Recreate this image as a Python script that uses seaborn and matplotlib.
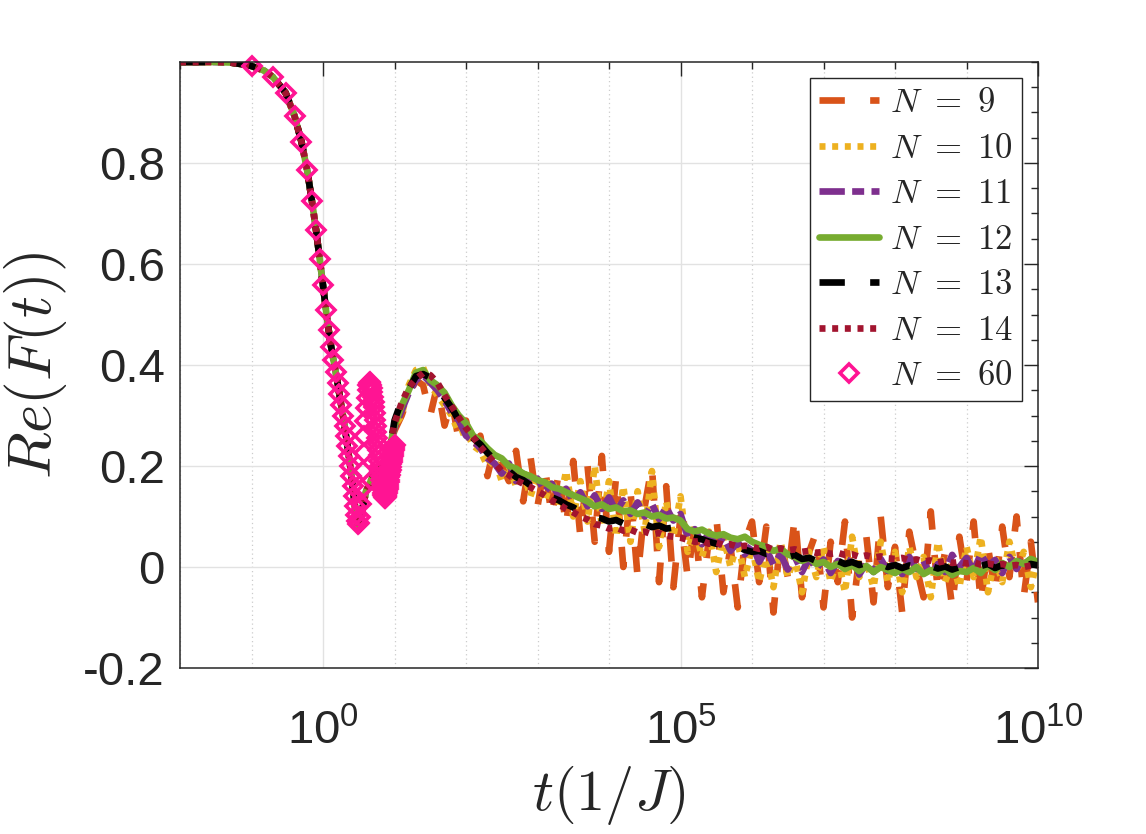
import matplotlib
matplotlib.use("Agg")
import matplotlib.pyplot as plt
import matplotlib.ticker as mticker
import seaborn as sns

# early decay, identical for all finite-N curves
t_early = [0.01, 0.03, 0.05, 0.08, 0.1, 0.15, 0.2, 0.3, 0.4, 0.5, 0.6, 0.7, 0.8, 0.9,
           1.0, 1.1, 1.2, 1.3, 1.4, 1.5, 1.6, 1.8, 2.0, 2.2, 2.4, 2.6, 2.8, 3.0, 3.2,
           3.5, 4.0, 5.0, 6.0, 7.0, 8.0, 9.0]
f_early = [1.0, 1.0, 0.999, 0.995, 0.992, 0.983, 0.970, 0.939, 0.893, 0.842, 0.786, 0.725,
           0.667, 0.609, 0.558, 0.509, 0.469, 0.436, 0.410, 0.387, 0.364, 0.320, 0.280,
           0.240, 0.200, 0.160, 0.120, 0.085, 0.080, 0.110, 0.150, 0.180, 0.190, 0.200,
           0.220, 0.250]

# noisy tail, sampled at t = 10**tail_exp
tail_exp = [1.0, 1.1, 1.2, 1.3, 1.4, 1.5, 1.6, 1.7, 1.8, 1.9,
            2.0, 2.1, 2.2, 2.3, 2.4, 2.5, 2.6, 2.7, 2.8, 2.9,
            3.0, 3.1, 3.2, 3.3, 3.4, 3.5, 3.6, 3.7, 3.8, 3.9,
            4.0, 4.1, 4.2, 4.3, 4.4, 4.5, 4.6, 4.7, 4.8, 4.9,
            5.0, 5.1, 5.2, 5.3, 5.4, 5.5, 5.6, 5.7, 5.8, 5.9,
            6.0, 6.1, 6.2, 6.3, 6.4, 6.5, 6.6, 6.7, 6.8, 6.9,
            7.0, 7.1, 7.2, 7.3, 7.4, 7.5, 7.6, 7.7, 7.8, 7.9,
            8.0, 8.1, 8.2, 8.3, 8.4, 8.5, 8.6, 8.7, 8.8, 8.9,
            9.0, 9.1, 9.2, 9.3, 9.4, 9.5, 9.6, 9.7, 9.8, 9.9, 10.0]

f9_tail = [0.27, 0.3, 0.34, 0.37, 0.36, 0.3, 0.36, 0.28, 0.33, 0.25,
           0.29, 0.22, 0.26, 0.18, 0.24, 0.2, 0.17, 0.23, 0.13, 0.22,
           0.12, 0.2, 0.1, 0.19, 0.08, 0.21, 0.06, 0.2, 0.05, 0.22,
           0.03, 0.18, 0.0, 0.15, -0.02, 0.12, 0.2, -0.03, 0.16, -0.04,
           0.1, -0.02, 0.09, -0.06, 0.06, 0.1, -0.05, 0.04, -0.08, 0.05,
           0.09, -0.03, 0.08, -0.09, 0.06, -0.02, 0.1, -0.06, 0.03, 0.07,
           -0.08, 0.05, -0.03, 0.09, -0.1, 0.02, 0.06, -0.07, 0.1, -0.04,
           0.04, -0.09, 0.07, 0.0, -0.06, 0.11, -0.05, 0.03, -0.08, 0.06,
           -0.03, 0.09, -0.07, 0.04, -0.05, 0.08, -0.02, 0.1, -0.06, 0.05, -0.07]
f10_tail = [0.28, 0.3, 0.36, 0.39, 0.395, 0.36, 0.34, 0.32, 0.3, 0.265,
            0.27, 0.24, 0.23, 0.2, 0.215, 0.17, 0.2, 0.16, 0.19, 0.14,
            0.18, 0.13, 0.175, 0.12, 0.19, 0.1, 0.17, 0.09, 0.2, 0.08,
            0.17, 0.06, 0.16, 0.05, 0.15, 0.07, 0.19, 0.04, 0.13, 0.06,
            0.14, 0.03, 0.08, 0.02, 0.07, -0.01, 0.06, 0.0, 0.05, -0.02,
            0.04, -0.03, 0.03, -0.04, 0.05, -0.02, 0.02, -0.05, 0.03, -0.02,
            0.04, -0.03, 0.02, -0.05, 0.06, -0.02, 0.01, -0.04, 0.05, -0.03,
            0.03, -0.05, 0.04, -0.02, 0.02, -0.06, 0.05, -0.03, 0.01, -0.04,
            0.04, -0.02, 0.06, -0.05, 0.02, -0.03, 0.05, -0.01, 0.03, -0.04, 0.02]
f11_tail = [0.275, 0.31, 0.345, 0.37, 0.38, 0.365, 0.35, 0.33, 0.305, 0.29,
            0.26, 0.25, 0.235, 0.215, 0.205, 0.185, 0.205, 0.17, 0.185, 0.16,
            0.175, 0.15, 0.165, 0.14, 0.155, 0.13, 0.148, 0.12, 0.142, 0.115,
            0.138, 0.11, 0.132, 0.105, 0.128, 0.1, 0.125, 0.095, 0.118, 0.092,
            0.105, 0.06, 0.075, 0.045, 0.068, 0.038, 0.06, 0.032, 0.05, 0.025,
            0.045, 0.01, 0.035, 0.005, 0.025, -0.005, 0.02, -0.01, 0.018, -0.004,
            0.015, -0.012, 0.012, -0.006, 0.02, -0.015, 0.008, -0.01, 0.016, -0.008,
            0.01, -0.014, 0.02, -0.004, 0.012, -0.018, 0.006, -0.01, 0.024, 0.0,
            0.018, -0.008, 0.026, 0.002, 0.014, -0.012, 0.02, -0.004, 0.022, 0.006, 0.012]
f12_tail = [0.28, 0.32, 0.35, 0.385, 0.39, 0.37, 0.36, 0.345, 0.32, 0.3,
            0.285, 0.26, 0.25, 0.235, 0.222, 0.215, 0.2, 0.195, 0.185, 0.18,
            0.172, 0.168, 0.158, 0.155, 0.148, 0.142, 0.136, 0.13, 0.12, 0.124,
            0.115, 0.118, 0.11, 0.112, 0.105, 0.108, 0.1, 0.103, 0.096, 0.098,
            0.092, 0.075, 0.07, 0.074, 0.066, 0.062, 0.065, 0.058, 0.055, 0.06,
            0.05, 0.044, 0.04, 0.032, 0.036, 0.025, 0.02, 0.012, 0.018, 0.006,
            0.01, 0.0, 0.006, -0.004, 0.004, -0.008, 0.002, -0.01, 0.0, -0.006,
            -0.012, -0.004, -0.01, 0.0, -0.014, -0.006, -0.012, -0.002, -0.016, -0.008,
            -0.01, -0.002, -0.012, 0.004, -0.006, 0.008, 0.0, 0.012, 0.006, 0.016, 0.01]
f13_tail = [0.29, 0.33, 0.352, 0.378, 0.382, 0.375, 0.36, 0.335, 0.315, 0.29,
            0.272, 0.255, 0.243, 0.226, 0.212, 0.198, 0.19, 0.178, 0.172, 0.162,
            0.155, 0.148, 0.138, 0.132, 0.124, 0.118, 0.11, 0.106, 0.098, 0.096,
            0.09, 0.093, 0.086, 0.088, 0.082, 0.085, 0.079, 0.082, 0.076, 0.078,
            0.074, 0.062, 0.058, 0.055, 0.05, 0.046, 0.044, 0.038, 0.04, 0.034,
            0.03, 0.032, 0.026, 0.028, 0.022, 0.02, 0.024, 0.016, 0.018, 0.012,
            0.014, 0.008, 0.012, 0.006, 0.01, 0.004, 0.008, 0.002, 0.006, 0.0,
            0.004, -0.002, 0.003, 0.0, -0.004, 0.002, -0.003, 0.001, -0.005, 0.0,
            0.003, -0.003, 0.002, 0.006, -0.002, 0.004, 0.0, 0.005, 0.001, 0.006, 0.003]
f14_tail = [0.285, 0.325, 0.356, 0.372, 0.384, 0.38, 0.365, 0.34, 0.318, 0.296,
            0.275, 0.258, 0.238, 0.222, 0.206, 0.19, 0.182, 0.172, 0.165, 0.158,
            0.15, 0.142, 0.132, 0.124, 0.115, 0.108, 0.1, 0.094, 0.085, 0.082,
            0.076, 0.078, 0.072, 0.074, 0.068, 0.07, 0.065, 0.067, 0.062, 0.06,
            0.058, 0.054, 0.05, 0.052, 0.046, 0.048, 0.044, 0.045, 0.04, 0.042,
            0.04, 0.036, 0.04, 0.034, 0.037, 0.033, 0.035, 0.03, 0.032, 0.028,
            0.03, 0.026, 0.028, 0.024, 0.025, 0.02, 0.023, 0.019, 0.021, 0.017,
            0.016, 0.018, 0.013, 0.015, 0.011, 0.013, 0.009, 0.012, 0.008, 0.01,
            0.007, 0.009, 0.005, 0.007, 0.004, 0.006, 0.002, 0.004, 0.0, 0.003, 0.001]

# N = 60 reference curve
t60 = [0.1, 0.2, 0.3, 0.4, 0.5, 0.6, 0.7, 0.8, 0.9, 1.0,
       1.1, 1.2, 1.3, 1.4, 1.5, 1.6, 1.7, 1.8, 1.9, 2.0,
       2.1, 2.2, 2.3, 2.4, 2.5, 2.6, 2.7, 2.8, 2.9, 3.0,
       3.1, 3.2, 3.3, 3.4, 3.5, 3.6, 3.7, 3.8, 3.9, 4.0,
       4.1, 4.2, 4.3, 4.4, 4.5, 4.6, 4.7, 4.8, 4.9, 5.0,
       5.1, 5.2, 5.3, 5.4, 5.5, 5.6, 5.7, 5.8, 5.9, 6.0,
       6.1, 6.2, 6.3, 6.4, 6.5, 6.6, 6.7, 6.8, 6.9, 7.0,
       7.1, 7.2, 7.3, 7.4, 7.5, 7.6, 7.7, 7.8, 7.9, 8.0,
       8.1, 8.2, 8.3, 8.4, 8.5, 8.6, 8.7, 8.8, 8.9, 9.0,
       9.1, 9.2, 9.3, 9.4, 9.5, 9.6, 9.7, 9.8, 9.9, 10.0]
f60 = [0.992, 0.970, 0.939, 0.893, 0.842, 0.786, 0.725, 0.667, 0.609, 0.558,
       0.509, 0.469, 0.436, 0.410, 0.387, 0.364, 0.342, 0.320, 0.300, 0.280,
       0.260, 0.240, 0.220, 0.200, 0.180, 0.160, 0.140, 0.120, 0.103, 0.092,
       0.086, 0.088, 0.100, 0.125, 0.155, 0.190, 0.225, 0.260, 0.290, 0.315,
       0.335, 0.350, 0.360, 0.365, 0.366, 0.364, 0.360, 0.354, 0.346, 0.337,
       0.327, 0.316, 0.304, 0.292, 0.280, 0.268, 0.256, 0.244, 0.232, 0.221,
       0.210, 0.200, 0.190, 0.181, 0.173, 0.165, 0.158, 0.152, 0.147, 0.143,
       0.140, 0.138, 0.137, 0.137, 0.138, 0.140, 0.143, 0.146, 0.150, 0.154,
       0.158, 0.163, 0.168, 0.173, 0.178, 0.183, 0.188, 0.193, 0.198, 0.203,
       0.208, 0.212, 0.216, 0.220, 0.224, 0.228, 0.232, 0.236, 0.239, 0.242]

sns.set_theme(style="white")
plt.rcParams['font.family'] = ['Liberation Sans', 'DejaVu Sans']
plt.rcParams['mathtext.fontset'] = 'cm'
plt.rcParams['axes.unicode_minus'] = False

fig = plt.figure(figsize=(11.46, 8.34), dpi=100)
ax = fig.add_axes([180/1146, 1 - 668/834, 858/1146, 606/834])
ax.set_xscale('log')

t_tail = [10**e for e in tail_exp]
series = [
    (r"$N\ =\ 9$", f9_tail, "#d95319", (0, (3.8, 3.8))),
    (r"$N\ =\ 10$", f10_tail, "#edb120", (0, (0.9, 1.0))),
    (r"$N\ =\ 11$", f11_tail, "#7e2f8e", (0, (3.8, 1.1, 1.8, 1.1))),
    (r"$N\ =\ 12$", f12_tail, "#77ac30", "-"),
    (r"$N\ =\ 13$", f13_tail, "#000000", (0, (3.8, 3.8))),
    (r"$N\ =\ 14$", f14_tail, "#a2142f", (0, (0.9, 1.0))),
]
for lab, tail, col, ls in series:
    sns.lineplot(x=t_early + t_tail, y=f_early + tail, ax=ax, color=col, lw=4.8,
                 linestyle=ls, label=lab, sort=False, legend=False)

pink = "#ff1493"
sns.lineplot(x=t60, y=f60, ax=ax, color=pink, linestyle="none", marker="D",
             markersize=9.5, markerfacecolor="none", markeredgecolor=pink,
             markeredgewidth=2.6, label=r"$N\ =\ 60$", sort=False, legend=False,
             clip_on=False)

ax.set_xlim(1e-2, 1e10)
ax.set_ylim(-0.2, 1.0)
ax.set_xticks([1, 1e5, 1e10])
ax.xaxis.set_minor_locator(mticker.LogLocator(base=10, subs=(1.0,), numticks=30))
ax.xaxis.set_minor_formatter(mticker.NullFormatter())
ax.set_yticks([-0.2, 0, 0.2, 0.4, 0.6, 0.8], ["-0.2", "0", "0.2", "0.4", "0.6", "0.8"])
ax.yaxis.set_minor_locator(mticker.MultipleLocator(0.05))

ax.tick_params(which='both', direction='in', top=True, right=True, colors='#262626',
               labelsize=34)
ax.tick_params(which='major', length=10, width=1)
ax.tick_params(which='minor', length=5, width=1)
ax.tick_params(axis='y', pad=11)
ax.tick_params(axis='x', pad=30)

ax.grid(which='major', color='#e2e2e2', lw=1, ls='-')
ax.grid(which='minor', axis='x', color='#cccccc', lw=0.9, ls=(0, (1, 2.5)))
ax.set_axisbelow(True)
for sp in ax.spines.values():
    sp.set_color('#262626')
    sp.set_linewidth(1.1)

ax.set_xlabel("$t(1/J)$", fontsize=42, labelpad=6)
ax.set_ylabel("$Re(F(t))$", fontsize=44, labelpad=10)

leg = ax.legend(loc='upper right', bbox_to_anchor=(0.981, 0.974), borderaxespad=0,
                fontsize=25, handlelength=1.75, handletextpad=0.3, labelspacing=0.36,
                borderpad=0.25, frameon=True, fancybox=False, edgecolor='#262626',
                framealpha=1)
leg.get_frame().set_linewidth(1)

fig.savefig("out.png", dpi=100)
